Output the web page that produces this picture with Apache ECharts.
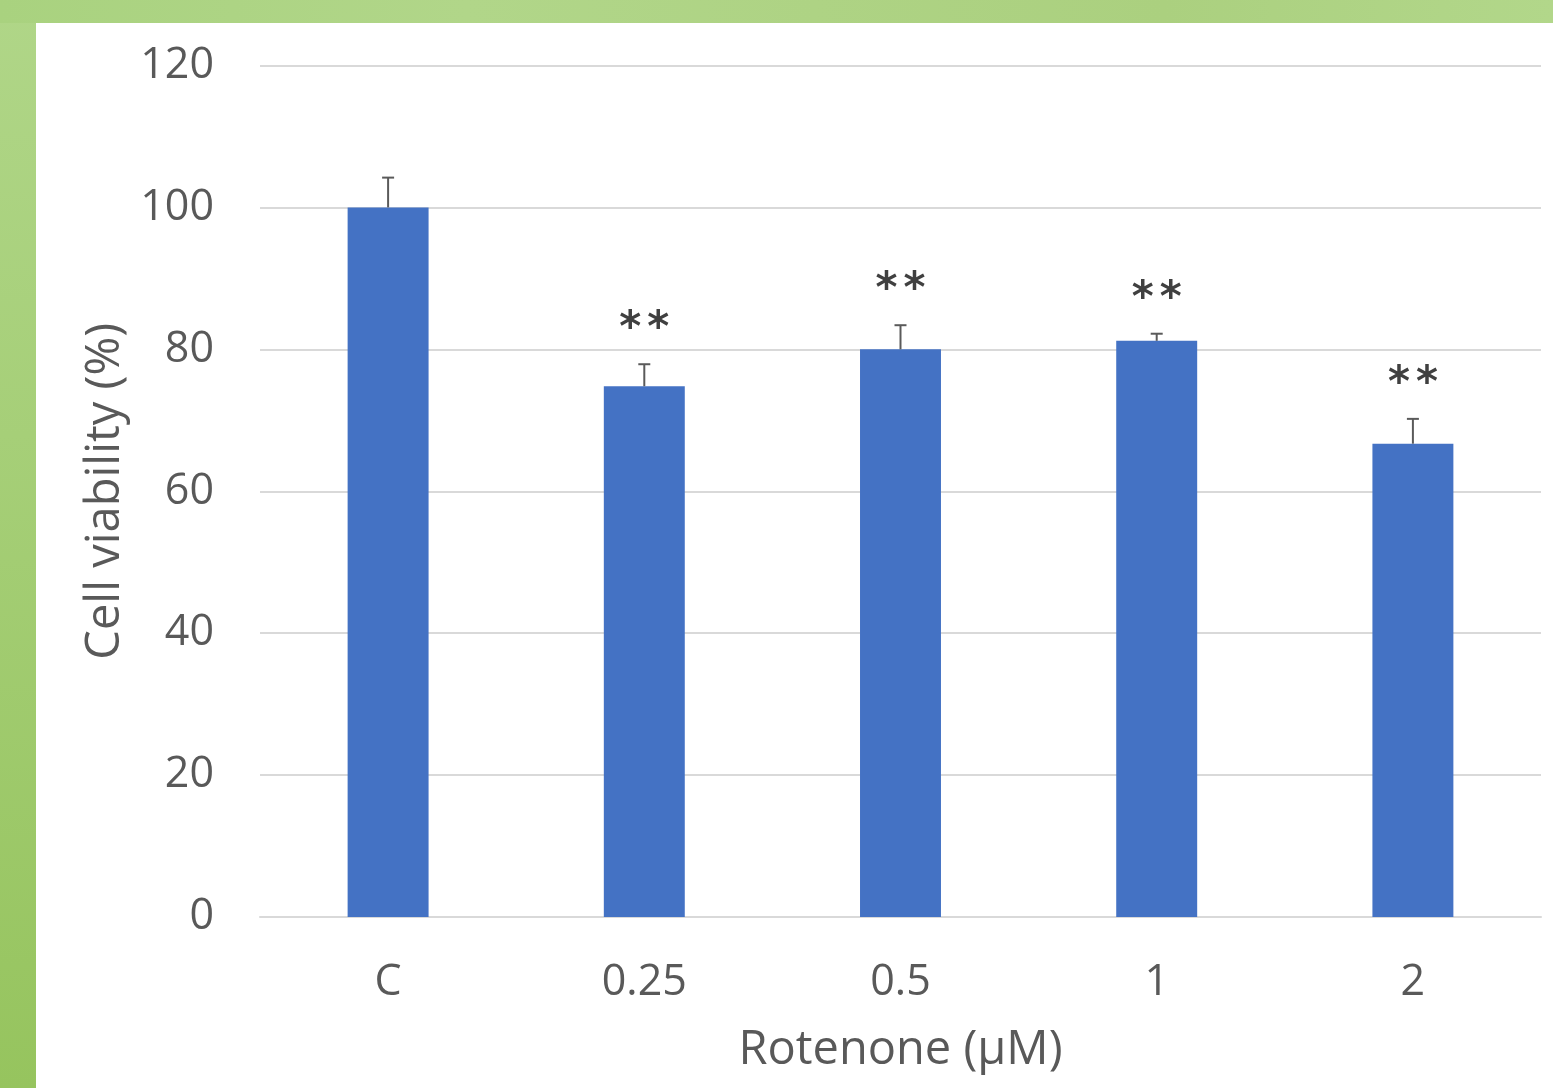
<!DOCTYPE html>
<html>
<head>
<meta charset="utf-8">
<script src="https://cdn.jsdelivr.net/npm/echarts@6/dist/echarts.min.js"></script>
<style>
html,body{margin:0;padding:0;width:1553px;height:1088px;overflow:hidden;
background:linear-gradient(180deg,#b0d688 0%,#a6cf78 40%,#96c45e 100%);}
#top{position:absolute;left:0;top:0;width:1553px;height:23px;background:linear-gradient(90deg,#a9d27f 0%,#b1d689 30%,#abd07f 75%,#b2d78a 100%);}
#chart{position:absolute;left:36px;top:23px;width:1517px;height:1065px;background:#fff;}
</style>
</head>
<body>
<div id="top"></div>
<div id="chart"></div>
<script>
const categories = ['C', '0.25', '0.5', '1', '2'];
const viability = [100, 74.8, 80.0, 81.2, 66.7];
const errors = [4.2, 3.1, 3.4, 1.0, 3.5];
const significance = [0, 2, 2, 2, 2];
const yTicks = { min: 0, max: 120, interval: 20 };

const txt = '#595959';
const font = 'Open Sans';
const chart = echarts.init(document.getElementById('chart'));
chart.setOption({
  animation: false,
  grid: { left: 224, right: 12, top: 42.5, bottom: 171, containLabel: false },
  xAxis: {
    type: 'category', data: categories,
    axisLine: { show: true, lineStyle: { color: '#d9d9d9', width: 2 } },
    axisTick: { show: false },
    axisLabel: { color: txt, fontSize: 43, fontFamily: font, margin: 44 },
    name: 'Rotenone (µM)', nameLocation: 'middle', nameGap: 110,
    nameTextStyle: { color: txt, fontSize: 47, fontFamily: font }
  },
  yAxis: {
    type: 'value', min: yTicks.min, max: yTicks.max, interval: yTicks.interval,
    axisLine: { show: false }, axisTick: { show: false },
    splitLine: { lineStyle: { color: '#d9d9d9', width: 2 } },
    axisLabel: { color: txt, fontSize: 43, fontFamily: font, margin: 46 },
    name: 'Cell viability (%)', nameLocation: 'middle', nameGap: 130, nameRotate: 90,
    nameTextStyle: { color: txt, fontSize: 47, fontFamily: font }
  },
  series: [
    {
      type: 'bar', data: viability, barWidth: '31.6%',
      itemStyle: { color: '#4472c4' }, z: 2
    },
    {
      type: 'custom', z: 3,
      data: viability.map((v, i) => [i, v, errors[i]]),
      renderItem: function (params, api) {
        const i = api.value(0), v = api.value(1), e = api.value(2);
        const base = api.coord([i, v]);
        const top = api.coord([i, v + e]);
        const cw = 6;
        const children = [
          { type: 'line', shape: { x1: base[0], y1: base[1], x2: top[0], y2: top[1] }, style: { stroke: '#5a5a5a', lineWidth: 2 } },
          { type: 'line', shape: { x1: top[0] - cw, y1: top[1], x2: top[0] + cw, y2: top[1] }, style: { stroke: '#5a5a5a', lineWidth: 2 } }
        ];
        const n = significance[i];
        for (let k = 0; k < n; k++) {
          const dx = (k - (n - 1) / 2) * 28;
          children.push({ type: 'text', x: top[0] + dx, y: top[1] - 34,
            style: { text: '*', fill: '#404040', font: 'bold 42px "DejaVu Sans"', textAlign: 'center', textVerticalAlign: 'middle' } });
        }
        return { type: 'group', children: children };
      }
    }
  ]
});
</script>
</body>
</html>
